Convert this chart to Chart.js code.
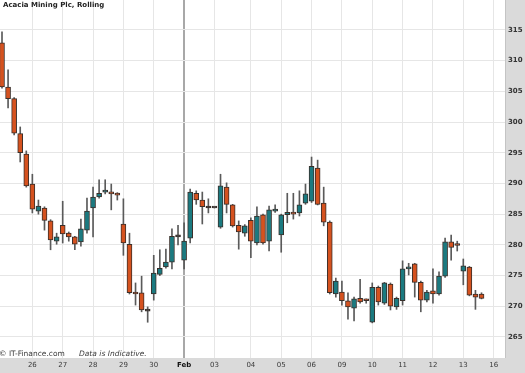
<!DOCTYPE html>
<html><head><meta charset="utf-8">
<script src="https://cdn.jsdelivr.net/npm/chart.js@4"></script>
<style>html,body{margin:0;padding:0;background:#fff;overflow:hidden}</style>
</head><body>
<canvas id="c" width="525" height="373" style="display:block;width:525px;height:373px"></canvas>
<script>
const opens  = [312.9,305.7,303.8,298.1,294.8,289.9,285.5,286.0,283.9,280.6,283.2,281.9,281.3,280.5,282.4,286.0,287.8,288.6,288.4,288.4,283.4,280.1,272.3,272.2,269.2,272.0,275.2,276.4,277.2,281.3,277.5,281.1,288.4,287.3,286.0,286.0,282.9,289.4,286.5,283.2,281.9,284.0,280.3,284.9,280.6,285.5,281.6,284.9,285.3,285.2,286.8,287.1,292.5,286.8,283.7,272.0,272.3,270.9,269.7,271.3,271.0,267.4,273.1,270.5,273.6,269.9,270.9,276.1,276.9,273.9,271.0,272.5,272.0,274.9,280.5,280.0,275.7,276.4,272.0,272.0];
const highs  = [314.7,308.5,304.0,299.2,295.3,291.5,287.3,286.2,284.1,281.9,287.1,282.1,281.4,284.2,287.6,289.4,290.6,290.6,289.9,288.5,287.5,281.9,273.8,274.9,269.9,278.3,279.2,279.3,282.6,283.2,283.6,289.1,288.8,288.6,287.5,286.0,291.5,290.1,286.6,283.9,283.3,284.4,286.2,285.0,286.3,286.5,285.0,288.4,288.4,288.8,289.9,294.3,293.8,289.4,283.9,274.6,274.1,272.2,271.5,274.4,271.2,273.8,273.3,273.9,273.8,271.5,277.4,277.0,277.0,274.1,272.6,276.1,275.6,281.1,281.6,280.6,277.7,276.5,272.6,272.2];
const lows   = [305.5,302.3,297.9,293.5,289.4,285.2,285.0,282.4,279.2,280.1,280.3,280.6,279.2,279.8,281.9,281.3,287.6,288.3,285.7,287.3,278.3,272.0,270.2,269.1,267.4,271.0,275.0,276.2,276.1,280.0,276.1,280.3,286.6,283.4,285.2,286.0,282.7,285.2,282.9,279.3,281.4,277.9,280.0,280.1,279.0,285.3,278.8,283.6,284.2,284.7,286.6,286.9,286.5,283.1,272.0,271.5,270.2,267.9,267.6,270.5,270.5,267.3,270.2,270.3,269.4,269.5,270.2,275.1,271.5,269.1,270.7,270.5,271.8,274.7,277.5,279.0,273.5,271.7,269.5,271.2];
const closes = [305.7,303.8,298.2,295.0,289.6,285.8,286.3,284.0,280.8,281.3,281.8,281.3,280.1,282.6,285.5,287.8,288.4,288.8,288.3,288.1,280.3,272.2,272.0,269.4,269.2,275.4,276.2,277.2,281.4,281.3,280.6,288.6,287.3,286.2,286.0,286.0,289.6,286.6,283.1,282.1,283.1,280.6,284.7,280.3,285.7,285.8,284.9,285.3,285.0,286.5,288.3,292.8,286.6,283.7,272.2,274.1,270.9,269.9,271.2,270.7,270.9,273.1,270.7,273.8,270.0,271.3,276.1,276.4,273.9,271.0,272.3,272.0,274.9,280.5,279.6,279.9,276.6,271.8,271.5,271.3];
const dayLabels = ['26','27','28','29','30','Feb','03','04','05','06','09','10','11','12','13','16'];
const dayStarts = [5,10,15,20,25,30,35,41,46,51,56,61,66,71,76,81];
const yTicks = [265,270,275,280,285,290,295,300,305,310,315];
const titleText = 'Acacia Mining Plc, Rolling';
const creditText = '\u00A9 IT-Finance.com';
const noteText = 'Data is Indicative.';

const UP = '#1b7a80', DOWN = '#d5521f', FLAT = '#333333';
const bodies = opens.map((o, i) => ({x: i, y: [o, closes[i]]}));
const wicks = lows.map((l, i) => ({x: i, y: [l, highs[i]]}));
const febValue = dayStarts[dayLabels.indexOf('Feb')];

const decor = {
  id: 'decor',
  beforeDraw(chart) {
    const {ctx, chartArea: a, width, height} = chart;
    ctx.save();
    ctx.fillStyle = '#ffffff';
    ctx.fillRect(0, 0, width, height);
    ctx.fillStyle = '#dadada';
    ctx.fillRect(a.right, 0, width - a.right, height);
    ctx.fillRect(0, a.bottom, width, height - a.bottom);
    ctx.fillStyle = '#c4c4c4';
    ctx.fillRect(a.right, 0, 1, a.bottom);
    ctx.restore();
  },
  afterDraw(chart) {
    const {ctx, chartArea: a} = chart;
    ctx.save();
    ctx.textBaseline = 'alphabetic';
    ctx.textAlign = 'left';
    ctx.fillStyle = '#222';
    ctx.font = 'bold 7px "DejaVu Sans"';
    ctx.fillText(titleText, 3, 7);
    ctx.fillStyle = '#3a3a3a';
    ctx.font = '7.5px "DejaVu Sans"';
    ctx.fillText(creditText, -1, a.bottom - 2);
    ctx.font = 'italic 7.5px "DejaVu Sans"';
    ctx.fillText(noteText, 79, a.bottom - 2);
    ctx.restore();
  }
};

new Chart(document.getElementById('c'), {
  type: 'bar',
  data: {
    datasets: [
      {
        data: bodies,
        grouped: false,
        barThickness: 5,
        minBarLength: 2,
        borderWidth: 1,
        borderSkipped: false,
        borderColor: '#3a2f2a',
        backgroundColor: (c) => {
          const i = c.dataIndex;
          if (i === undefined) return UP;
          return closes[i] > opens[i] ? UP : (closes[i] < opens[i] ? DOWN : FLAT);
        },
        order: 0
      },
      {
        data: wicks,
        grouped: false,
        barThickness: 1,
        borderWidth: 0,
        backgroundColor: '#5a5a5a',
        order: 1
      }
    ]
  },
  options: {
    responsive: false,
    devicePixelRatio: 1,
    animation: false,
    events: [],
    layout: {padding: 0},
    plugins: {legend: {display: false}, tooltip: {enabled: false}, title: {display: false}},
    scales: {
      x: {
        type: 'linear',
        min: -0.33,
        max: 82.87,
        offset: false,
        afterBuildTicks: (s) => { s.ticks = dayStarts.map(v => ({value: v})); },
        afterFit: (s) => { s.height = 15; s.paddingLeft = 0; s.paddingRight = 0; },
        border: {display: false},
        grid: {
          drawTicks: false,
          offset: false,
          color: (c) => (c.tick && c.tick.value === febValue) ? '#a8a8a8' : '#e6e6e6',
          lineWidth: (c) => (c.tick && c.tick.value === febValue) ? 2 : 1
        },
        ticks: {
          autoSkip: false,
          maxRotation: 0,
          padding: 3,
          color: (c) => (c.tick && c.tick.value === febValue) ? '#111' : '#3a3a3a',
          font: (c) => (c.tick && c.tick.value === febValue)
            ? {family: 'DejaVu Sans', size: 7, weight: 'bold'}
            : {family: 'DejaVu Sans', size: 7},
          callback: (v) => dayLabels[dayStarts.indexOf(v)]
        }
      },
      y: {
        type: 'linear',
        position: 'right',
        min: 261.58,
        max: 319.87,
        afterBuildTicks: (s) => { s.ticks = yTicks.map(v => ({value: v})); },
        afterFit: (s) => { s.width = 20; s.paddingTop = 0; s.paddingBottom = 0; },
        border: {display: false},
        grid: {drawTicks: false, color: '#e6e6e6', lineWidth: 1},
        ticks: {
          padding: 3,
          color: '#333',
          font: {family: 'DejaVu Sans', size: 7, weight: 'bold'}
        }
      }
    }
  },
  plugins: [decor]
});
</script>
</body></html>
